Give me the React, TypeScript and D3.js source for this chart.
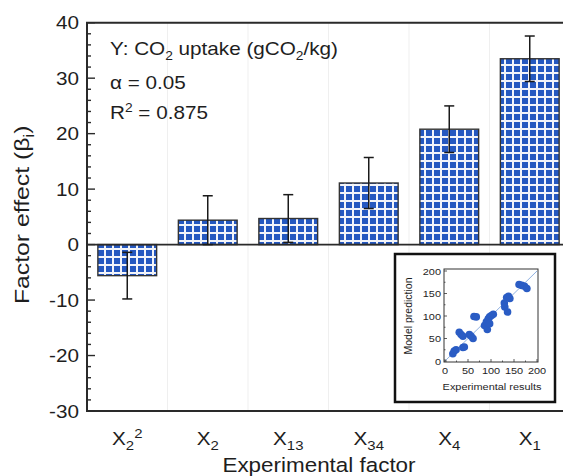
import * as d3 from 'd3';

const factorSub = ['2', '2', '13', '34', '4', '1'];
const factorSup = ['2', '', '', '', '', ''];
const effects = [-5.6, 4.4, 4.7, 11.1, 20.8, 33.5];
const errors = [4.2, 4.4, 4.3, 4.6, 4.2, 4.1];
const yTicks = [40, 30, 20, 10, 0, -10, -20, -30];

// inset: experimental results vs model prediction
const expResults = [17, 20, 24, 39, 42, 31, 35, 39, 53, 57, 61, 63, 68, 86, 90, 94, 92, 97, 101, 105, 97, 129, 134, 138, 141, 130, 136, 161, 167, 173, 178];
const modelPred = [16, 22, 25, 30, 31, 64, 59, 55, 59, 55, 50, 99, 98, 79, 87, 94, 70, 98, 101, 104, 83, 129, 141, 144, 139, 120, 109, 170, 168, 166, 161];
const insetTicks = [0, 50, 100, 150, 200];

const FONT = 'Liberation Sans, Arial, Helvetica, sans-serif';
const SX = 1.15;
const INK = '#1e1e1e';

export default function App() {
  const width = 563;
  const height = 476;
  const left = 87;
  const top = 22.7;
  const bottom = 411;
  const right = 570;

  const x = d3
    .scaleBand<number>()
    .domain(d3.range(effects.length))
    .range([left, right])
    .paddingInner(0.27)
    .paddingOuter(0.135);
  const y = d3.scaleLinear().domain([-30, 40]).range([bottom, top]);
  const minor = d3.range(-30, 41, 2);

  const ix = d3.scaleLinear().domain([0, 200]).range([445, 537]);
  const iy = d3.scaleLinear().domain([0, 200]).range([361, 271]);
  const iminor = d3.range(0, 201, 25);

  const stretched = (tx: number, ty: number) => `translate(${tx},${ty}) scale(${SX},1)`;

  return (
    <svg
      width={width}
      height={height}
      style={{ position: 'absolute', left: 0, top: 0, background: '#fff' }}
      fontFamily={FONT}
    >
      <defs>
        <pattern id='grid' width={8} height={8} patternUnits='userSpaceOnUse' x={0} y={0}>
          <rect width={8} height={8} fill='#2558c0' />
          <rect width={8} height={2} fill='#f2f4fa' />
          <rect width={2} height={8} fill='#f2f4fa' />
        </pattern>
      </defs>

      {/* faint separators between categories */}
      {d3.range(1, effects.length).map((i) => (
        <line key={i} x1={left + x.step() * i} x2={left + x.step() * i} y1={top} y2={bottom} stroke='#efefef' strokeWidth={1} />
      ))}

      {/* bars */}
      {effects.map((v, i) => (
        <rect
          key={i}
          x={x(i)}
          width={x.bandwidth()}
          y={y(Math.max(0, v))}
          height={Math.abs(y(v) - y(0))}
          fill='url(#grid)'
          stroke='#333'
          strokeWidth={1.4}
        />
      ))}

      {/* zero line */}
      <line x1={left} x2={width} y1={y(0)} y2={y(0)} stroke='#2a2a2a' strokeWidth={1.6} />

      {/* error bars */}
      {effects.map((v, i) => {
        const cx = (x(i) as number) + x.bandwidth() / 2;
        return (
          <g key={i} stroke='#1a1a1a' strokeWidth={1.5}>
            <line x1={cx} x2={cx} y1={y(v + errors[i])} y2={y(v - errors[i])} />
            <line x1={cx - 5} x2={cx + 5} y1={y(v + errors[i])} y2={y(v + errors[i])} />
            <line x1={cx - 5} x2={cx + 5} y1={y(v - errors[i])} y2={y(v - errors[i])} />
          </g>
        );
      })}

      {/* frame */}
      <path d={`M${width},${top}H${left}V${bottom}H${width}`} fill='none' stroke='#2a2a2a' strokeWidth={2} />

      {/* y ticks */}
      {minor.map((t) => (
        <line key={t} x1={left} x2={left + (t % 10 === 0 ? 8 : 4)} y1={y(t)} y2={y(t)} stroke='#2a2a2a' strokeWidth={1.4} />
      ))}
      {yTicks.map((t) => (
        <text key={t} transform={stretched(79, y(t) + 6.5)} textAnchor='end' fontSize={18} fill={INK}>
          {t}
        </text>
      ))}

      {/* y title */}
      <text
        transform={`translate(29,${(top + bottom) / 2 - 2}) rotate(-90) scale(1.18,1)`}
        textAnchor='middle'
        fontSize={21}
        fill={INK}
      >
        Factor effect (β<tspan dy={5} fontSize={14}>i</tspan>
        <tspan dy={-5}>)</tspan>
      </text>

      {/* x labels */}
      {factorSub.map((s, i) => {
        const cx = (x(i) as number) + x.bandwidth() / 2;
        return (
          <text key={i} transform={stretched(cx, 445)} textAnchor='middle' fontSize={18} fill={INK}>
            X<tspan dy={5} fontSize={13}>{s}</tspan>
            {factorSup[i] && (
              <tspan dy={-12} fontSize={13}>
                {factorSup[i]}
              </tspan>
            )}
          </text>
        );
      })}
      <text transform={stretched(319, 472)} textAnchor='middle' fontSize={19.5} fill={INK}>
        Experimental factor
      </text>

      {/* annotations */}
      <g fontSize={18} fill={INK}>
        <text transform={stretched(110, 55)}>
          Y: CO<tspan dy={5} fontSize={12}>2</tspan>
          <tspan dy={-5}> uptake (gCO</tspan>
          <tspan dy={5} fontSize={12}>2</tspan>
          <tspan dy={-5}>/kg)</tspan>
        </text>
        <text transform={stretched(110, 89)}>α = 0.05</text>
        <text transform={stretched(110, 119)}>
          R<tspan dy={-7} fontSize={12}>2</tspan>
          <tspan dy={7}> = 0.875</tspan>
        </text>
      </g>

      {/* inset */}
      <rect x={395} y={254} width={160} height={148} fill='#fff' stroke='#111' strokeWidth={2.5} />
      <line x1={ix(0)} y1={iy(0)} x2={ix(200)} y2={iy(200)} stroke='#8fb0e0' strokeWidth={1} />
      {expResults.map((e, i) => (
        <circle key={i} cx={ix(e)} cy={iy(modelPred[i])} r={3.8} fill='#2a5cc4' />
      ))}
      <rect x={ix(0) - 1} y={iy(200) - 2} width={ix(200) - ix(0) + 2} height={iy(0) - iy(200) + 3} fill='none' stroke='#333' strokeWidth={1} />
      {iminor.map((t) => (
        <g key={t} stroke='#333' strokeWidth={0.8}>
          <line x1={ix(0) - 1} x2={ix(0) - 1 + (t % 50 === 0 ? 3 : 1.5)} y1={iy(t)} y2={iy(t)} />
          <line x1={ix(t)} x2={ix(t)} y1={iy(0) + 1} y2={iy(0) + 1 - (t % 50 === 0 ? 3 : 1.5)} />
        </g>
      ))}
      <g fontSize={9.5} fill={INK}>
        {insetTicks.map((t) => (
          <text key={'y' + t} transform={stretched(441, iy(t) + 3.5)} textAnchor='end'>
            {t}
          </text>
        ))}
        {insetTicks.map((t) => (
          <text key={'x' + t} transform={stretched(ix(t), 374)} textAnchor='middle'>
            {t}
          </text>
        ))}
        <text transform={stretched(492, 390)} textAnchor='middle'>
          Experimental results
        </text>
        <text transform={`translate(412,316) rotate(-90)`} textAnchor='middle' fontSize={10.5}>
          Model prediction
        </text>
      </g>
    </svg>
  );
}
